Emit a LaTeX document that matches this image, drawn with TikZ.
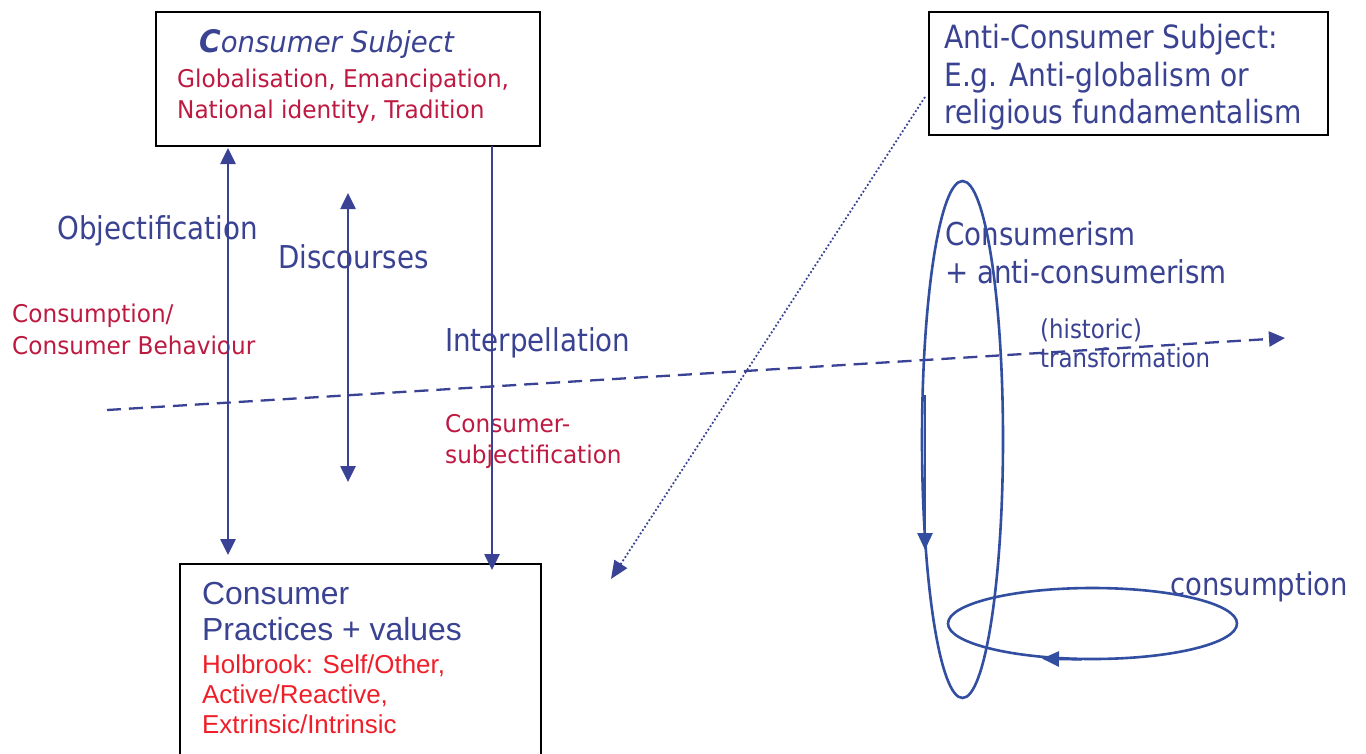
\documentclass[tikz,border=0pt]{standalone}
\usepackage{fontspec}
\setmainfont{DejaVu Sans}
\newfontfamily\bfam{DejaVu Sans}[FakeStretch=0.88]
\newfontfamily\rfam{DejaVu Sans}[FakeStretch=0.95]
\newfontfamily\afam{Liberation Sans}
\usetikzlibrary{arrows.meta}
\newcommand\setfs[1]{\fontsize{#1}{#1}\selectfont}
\definecolor{blueT}{RGB}{58,66,146}
\definecolor{redT}{RGB}{190,25,65}
\definecolor{holb}{RGB}{240,30,40}
\definecolor{lineB}{RGB}{58,66,150}
\definecolor{ellB}{RGB}{50,78,160}
\tikzset{
  lbl/.style={anchor=base west, inner sep=0pt, text=blueT},
  rlbl/.style={anchor=base west, inner sep=0pt, text=redT},
  hlbl/.style={anchor=base west, inner sep=0pt, text=holb, font=\afam\setfs{25.9}},
  box/.style={draw=black, line width=2.4pt, inner sep=0pt},
  arr/.style={draw=lineB, line width=2.6pt},
  fwd/.style={arr, -{Triangle[length=16pt,width=15pt]}},
  dbl/.style={arr, {Triangle[length=16pt,width=15pt]}-{Triangle[length=16pt,width=15pt]}},
  ell/.style={draw=ellB, line width=2.6pt},
  ellarr/.style={ell, -{Triangle[length=17pt,width=15pt]}},
}
\begin{document}
\begin{tikzpicture}[x=1pt,y=-1pt]
\fill[white] (0,0) rectangle (1366,753);
\useasboundingbox (0,0) rectangle (1366,753);

% boxes
\node[box, minimum width=384pt, minimum height=134pt] (subj) at (348,79) {};
\node[box, minimum width=399pt, minimum height=123pt] (anti) at (1128.5,73.5) {};
\node[box, minimum width=361pt, minimum height=216pt] (prac) at (360.5,672) {};

% box 1 text
\node[lbl, font=\rfam\setfs{29}] (cs) at (199,52) {\itshape{\bfseries\setfs{31}C}onsumer Subject};
\node[rlbl, font=\rfam\setfs{24.4}] (g1) at (177,87) {Globalisation, Emancipation,};
\node[rlbl, font=\rfam\setfs{24.4}] (g2) at (177,118) {National identity, Tradition};

% box 2 text
\node[lbl, font=\bfam\setfs{32}] (a1) at (944,48) {Anti-Consumer Subject:};
\node[lbl, font=\bfam\setfs{32}] (a2) at (944,86) {E.g. Anti-globalism or};
\node[lbl, font=\bfam\setfs{32}] (a3) at (944,123) {religious fundamentalism};

% box 3 text
\node[lbl, font=\afam\setfs{31.9}] (p1) at (202,604) {Consumer};
\node[lbl, font=\afam\setfs{31.9}] (p2) at (202,640) {Practices + values};
\node[hlbl] (h1) at (202,673) {Holbrook: Self/Other,};
\node[hlbl] (h2) at (202,703) {Active/Reactive,};
\node[hlbl] (h3) at (202,733) {Extrinsic/Intrinsic};

% labels
\node[lbl, font=\bfam\setfs{31.5}] (obj) at (57,239) {Objectification};
\node[lbl, font=\bfam\setfs{31.5}] (disc) at (278,268) {Discourses};
\node[rlbl, font=\rfam\setfs{24.4}] (c1) at (12,322) {Consumption/};
\node[rlbl, font=\rfam\setfs{24.4}] (c2) at (12,354) {Consumer Behaviour};
\node[lbl, font=\bfam\setfs{31.5}] (interp) at (445,351) {Interpellation};
\node[rlbl, font=\rfam\setfs{24.4}] (s1) at (445,432) {Consumer-};
\node[rlbl, font=\rfam\setfs{24.4}] (s2) at (445,463) {subjectification};
\node[lbl, font=\bfam\setfs{31.5}] (cm1) at (945,245) {Consumerism};
\node[lbl, font=\bfam\setfs{31.5}] (cm2) at (945,283) {+ anti-consumerism};
\node[lbl, font=\bfam\setfs{26}] (t1) at (1040,338) {(historic)};
\node[lbl, font=\bfam\setfs{26}] (t2) at (1040,367) {transformation};
\node[lbl, font=\bfam\setfs{31.2}] (cons) at (1170,595) {consumption};

% coordinates
\coordinate (objT) at (228,148);
\coordinate (objB) at (228,555);
\coordinate (discT) at (348,193);
\coordinate (discB) at (348,482);
\coordinate (intT) at (492,146);
\coordinate (intB) at (492,570);
\coordinate (dotS) at (925,97);
\coordinate (dotE) at (611,579);
\coordinate (dashS) at (107,410);
\coordinate (dashE) at (1285,338);
\coordinate (vc) at (962.5,439.5);
\coordinate (hc) at (1092.5,623.5);
\coordinate (vaS) at (925,395);
\coordinate (vaE) at (925,550);
\coordinate (haS) at (1082,659.4);
\coordinate (haE) at (1042,658.6);

% arrows
\draw[dbl] (objT) -- (objB);
\draw[dbl] (discT) -- (discB);
\draw[fwd] (intT) -- (intB);
\draw[arr, line width=1.8pt, dash pattern=on 1.8pt off 2.2pt, -{Triangle[length=18pt,width=15pt]}] (dotS) -- (dotE);
\draw[fwd, line width=2.3pt, dash pattern=on 14pt off 8pt] (dashS) -- (dashE);

% ellipses
\draw[ell] (vc) ellipse [x radius=40.5pt, y radius=258.5pt];
\draw[ell] (hc) ellipse [x radius=144.5pt, y radius=35.5pt];
\draw[ellarr] (vaS) -- (vaE);
\draw[ellarr] (haS) -- (haE);
\end{tikzpicture}
\end{document}
